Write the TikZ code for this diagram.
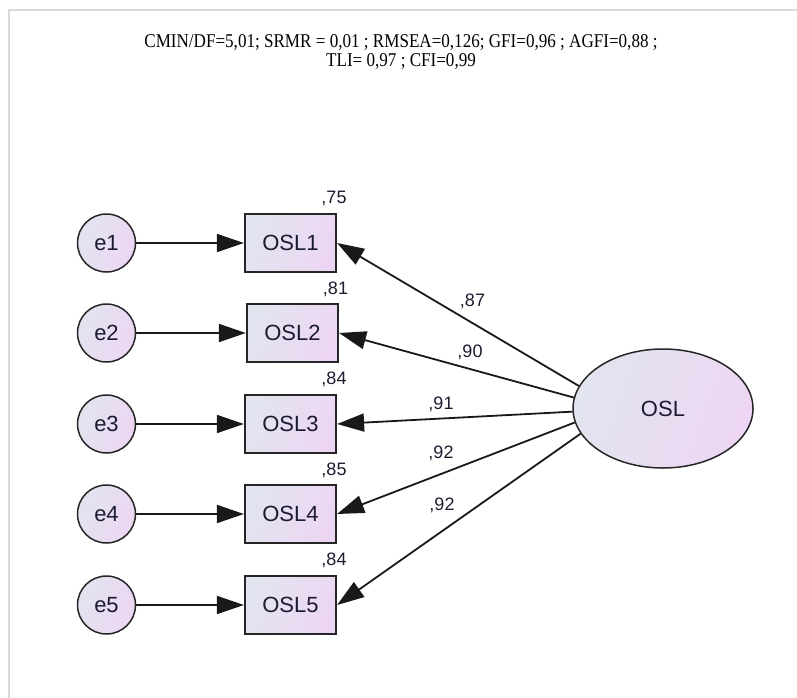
\documentclass[tikz,border=0pt]{standalone}
\usepackage{graphicx}
\usepackage{fontspec}
\setmainfont{Liberation Serif}
\setsansfont{Liberation Sans}
\usetikzlibrary{arrows.meta,shapes.geometric}
\definecolor{gA}{HTML}{E2E4EF}
\definecolor{gB}{HTML}{EDD6F3}
\definecolor{txt}{HTML}{1C1C30}
\definecolor{framec}{HTML}{D9D9D9}
\begin{document}
\begin{tikzpicture}[x=1pt,y=-1pt,
  fillgrad/.style={left color=gA, right color=gB, shading angle=70},
  obs/.style={draw=black!85, line width=2.2pt, minimum width=91pt, minimum height=58pt,
    inner sep=0pt, fillgrad, font=\sffamily\fontsize{22}{24}\selectfont, text=txt},
  err/.style={circle, draw=black!85, line width=1.5pt, minimum size=58pt, inner sep=0pt,
    fillgrad, font=\sffamily\fontsize{22}{24}\selectfont, text=txt},
  lat/.style={ellipse, draw=black!85, line width=1.5pt, minimum width=180pt,
    minimum height=119pt, inner sep=0pt, fillgrad,
    font=\sffamily\fontsize{22}{24}\selectfont, text=txt},
  conn/.style={draw=black!90, line width=1.8pt, -{Triangle[length=27pt,width=18pt]}},
  lbl/.style={font=\sffamily\fontsize{18}{20}\selectfont, text=txt, inner sep=0pt, anchor=base},
  ttl/.style={font=\rmfamily\fontsize{19.5}{20}\selectfont, text=black, inner sep=0pt, anchor=base}
]
\useasboundingbox (0,0) rectangle (797,698);
% frame
\draw[framec, line width=2pt] (8.5,698) -- (8.5,10.5) -- (797,10.5);
% title
\node[ttl] (t1) at (401,47.3) {\scalebox{0.876}[1]{CMIN/DF=5,01; SRMR = 0,01 ; RMSEA=0,126; GFI=0,96 ; AGFI=0,88 ;}};
\node[ttl] (t2) at (401,66.7) {\scalebox{0.876}[1]{TLI= 0,97 ; CFI=0,99}};
% error terms
\node[err] (e1) at (106.5,243) {e1};
\node[err] (e2) at (106.5,333) {e2};
\node[err] (e3) at (106.5,424) {e3};
\node[err] (e4) at (106.5,514) {e4};
\node[err] (e5) at (106.5,605) {e5};
% observed
\node[obs] (osl1) at (290.5,243) {OSL1};
\node[obs] (osl2) at (292.5,333) {OSL2};
\node[obs] (osl3) at (290.5,424) {OSL3};
\node[obs] (osl4) at (290.5,514) {OSL4};
\node[obs] (osl5) at (290.5,605) {OSL5};
% latent
\node[lat] (osl) at (663,408.5) {OSL};
% R2 labels
\node[lbl] (r1) at (334,203.3) {,75};
\node[lbl] (r2) at (335.5,294) {,81};
\node[lbl] (r3) at (334,384.5) {,84};
\node[lbl] (r4) at (334,475) {,85};
\node[lbl] (r5) at (334,565) {,84};
% error arrows
\draw[conn] (e1) -- (osl1);
\draw[conn] (e2) -- (osl2);
\draw[conn] (e3) -- (osl3);
\draw[conn] (e4) -- (osl4);
\draw[conn] (e5) -- (osl5);
% loadings
\draw[conn] (osl.165.8) -- (osl1.east);
\draw[conn] (osl.173.2) -- (osl2.east);
\draw[conn] (osl.182.2) -- (osl3.east);
\draw[conn] (osl.189.2) -- (osl4.east);
\draw[conn] (osl.197.3) -- (osl5.east);
% loading labels
\node[lbl] (l1) at (472.5,306.7) {,87};
\node[lbl] (l2) at (470,357) {,90};
\node[lbl] (l3) at (441,409) {,91};
\node[lbl] (l4) at (441,458) {,92};
\node[lbl] (l5) at (442,510.7) {,92};
\end{tikzpicture}
\end{document}
